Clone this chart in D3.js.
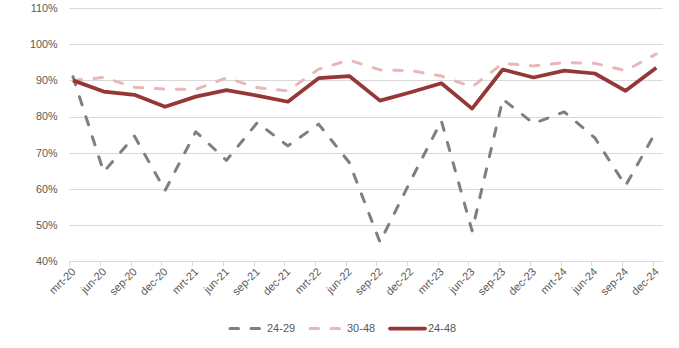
<!DOCTYPE html>
<html>
<head>
<meta charset="utf-8">
<script src="https://cdn.jsdelivr.net/npm/d3@7"></script>
<style>
  html, body { margin: 0; padding: 0; background: #fff; }
  svg { display: block; font-family: "Liberation Sans", Arial, sans-serif; }
</style>
</head>
<body>
<svg id="chart" width="679" height="348"></svg>
<script>
// Quarterly labels
const categories = ["mrt-20","jun-20","sep-20","dec-20","mrt-21","jun-21","sep-21","dec-21",
  "mrt-22","jun-22","sep-22","dec-22","mrt-23","jun-23","sep-23","dec-23",
  "mrt-24","jun-24","sep-24","dec-24"];

// Percentages per age group
const age24_29 = [91.0, 64.7, 74.6, 59.6, 75.8, 67.9, 78.3, 71.9, 77.9, 67.3,
  45.3, 62.3, 78.8, 48.4, 84.8, 78.1, 81.3, 74.1, 60.9, 76.0];
const age30_48 = [90.0, 90.8, 88.1, 87.6, 87.5, 90.7, 88.0, 87.1, 93.1, 95.6,
  92.9, 92.7, 91.2, 88.2, 94.7, 94.0, 94.9, 94.7, 92.7, 97.3];
const age24_48 = [90.0, 86.9, 86.0, 82.7, 85.5, 87.3, 85.8, 84.1, 90.6, 91.2,
  84.4, 86.7, 89.2, 82.2, 93.0, 90.8, 92.7, 91.9, 87.1, 93.5];

const yTicks = [40, 50, 60, 70, 80, 90, 100, 110];
const seriesNames = ["24-29", "30-48", "24-48"];

const svg = d3.select("#chart");

// Tick marks sit at quarter boundaries; values are plotted slightly past each tick
const x = d3.scaleLinear().domain([0, 19]).range([69.3, 652.6]);
const pointOffset = 0.12;
const axisEnd = 19.33;
const y = d3.scaleLinear().domain([40, 110]).range([261.3, 8]);

const labelColor = "#595959";

// Horizontal gridlines
svg.append("g")
  .selectAll("line")
  .data(yTicks)
  .join("line")
  .attr("x1", x(0)).attr("x2", x(axisEnd))
  .attr("y1", d => Math.round(y(d)) + 0.5).attr("y2", d => Math.round(y(d)) + 0.5)
  .attr("stroke", "#d9d9d9").attr("stroke-width", 1);

// Y-axis labels
svg.append("g")
  .selectAll("text")
  .data(yTicks)
  .join("text")
  .attr("x", 57.5)
  .attr("y", d => y(d))
  .attr("dy", "0.35em")
  .attr("text-anchor", "end")
  .attr("fill", labelColor)
  .attr("font-size", "10.8px")
  .text(d => d + "%");

// Category tick marks below the baseline
svg.append("g")
  .selectAll("line")
  .data(categories)
  .join("line")
  .attr("x1", (d, i) => Math.round(x(i)) + 0.5)
  .attr("x2", (d, i) => Math.round(x(i)) + 0.5)
  .attr("y1", Math.round(y(40)) + 0.5)
  .attr("y2", Math.round(y(40)) + 5)
  .attr("stroke", "#d9d9d9").attr("stroke-width", 1);

// Rotated category labels
svg.append("g")
  .selectAll("text")
  .data(categories)
  .join("text")
  .attr("transform", (d, i) => `translate(${x(i) + 7},${y(40) + 11}) rotate(-45)`)
  .attr("text-anchor", "end")
  .attr("fill", labelColor)
  .attr("font-size", "11px")
  .text(d => d);

const line = d3.line()
  .x((d, i) => x(i + pointOffset))
  .y(d => y(d));

const styles = [
  { data: age24_29, color: "#7f7f7f", width: 3, dash: "8.5,12.5" },
  { data: age30_48, color: "#e6b9b8", width: 3, dash: "8.5,12.5" },
  { data: age24_48, color: "#953735", width: 3.75, dash: null }
];

svg.append("g")
  .selectAll("path")
  .data(styles)
  .join("path")
  .attr("d", s => line(s.data))
  .attr("fill", "none")
  .attr("stroke", s => s.color)
  .attr("stroke-width", s => s.width)
  .attr("stroke-linejoin", "round")
  .attr("stroke-linecap", s => s.dash ? "round" : "butt")
  .attr("stroke-dasharray", s => s.dash);

// Legend
const legendX = [230, 310, 390];
const legend = svg.append("g")
  .selectAll("g")
  .data(styles)
  .join("g")
  .attr("transform", (s, i) => `translate(${legendX[i]},328.5)`);

legend.append("line")
  .attr("x1", 0).attr("x2", (s) => s.dash ? 30 : 35)
  .attr("y1", 0).attr("y2", 0)
  .attr("stroke", s => s.color)
  .attr("stroke-width", s => s.width)
  .attr("stroke-linecap", "round")
  .attr("stroke-dasharray", s => s.dash);

legend.append("text")
  .attr("x", (s) => s.dash ? 37 : 38)
  .attr("dy", "0.35em")
  .attr("fill", labelColor)
  .attr("font-size", "11px")
  .text((s, i) => seriesNames[i]);
</script>
</body>
</html>
